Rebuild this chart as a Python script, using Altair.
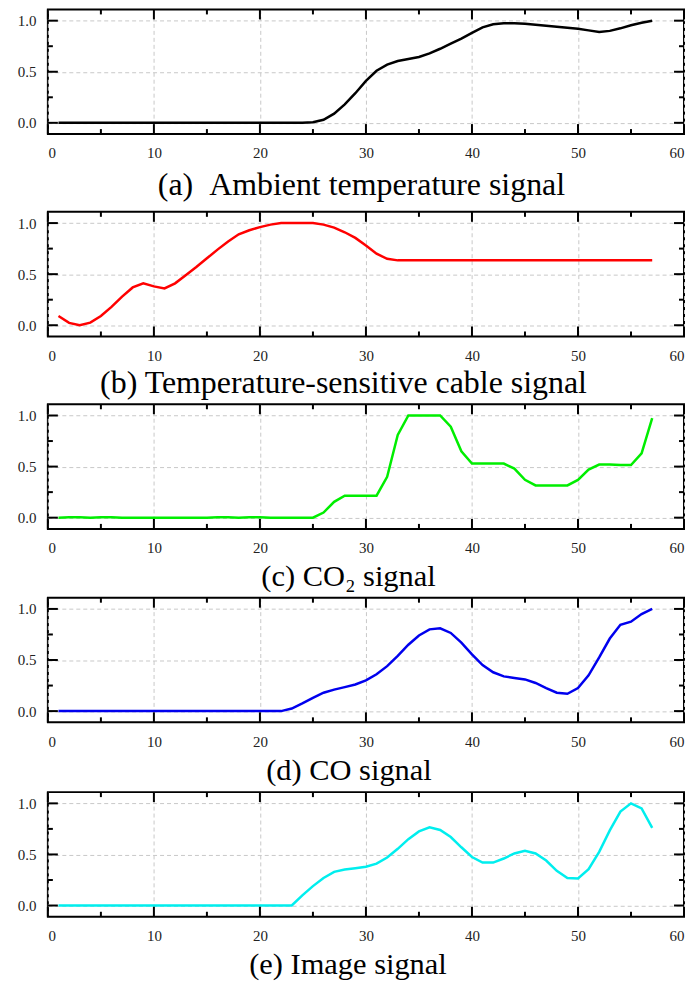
import altair as alt
import pandas as pd

# ---------------- data ----------------
x_vals = list(range(1, 58))

ambient = [0, 0, 0, 0, 0, 0, 0, 0, 0, 0, 0, 0, 0, 0, 0, 0, 0, 0, 0, 0, 0, 0, 0, 0,
           0.005, 0.03, 0.09, 0.18, 0.29, 0.41, 0.51, 0.57, 0.605, 0.625,
           0.645, 0.68, 0.725, 0.775, 0.825, 0.88, 0.935, 0.965, 0.975, 0.975,
           0.97, 0.96, 0.95, 0.94, 0.93, 0.92, 0.905, 0.89, 0.9, 0.925,
           0.955, 0.98, 1.0]

cable = [0.09, 0.023, 0.0, 0.025, 0.09, 0.18, 0.28, 0.37, 0.41, 0.38,
         0.36, 0.41, 0.49, 0.57, 0.655, 0.74, 0.82, 0.89, 0.93, 0.96,
         0.985, 1.0, 1.0, 1.0, 1.0, 0.985, 0.955, 0.91, 0.855, 0.78,
         0.7, 0.65, 0.635, 0.635, 0.635, 0.635, 0.635, 0.635, 0.635, 0.635,
         0.635, 0.635, 0.635, 0.635, 0.635, 0.635, 0.635, 0.635, 0.635, 0.635,
         0.635, 0.635, 0.635, 0.635, 0.635, 0.635, 0.635]

co2 = [0, 0.005, 0.005, 0, 0.005, 0.005, 0, 0, 0, 0,
       0, 0, 0, 0, 0, 0.005, 0.005, 0, 0.005, 0.005,
       0, 0, 0, 0, 0, 0.05, 0.155, 0.215, 0.215, 0.215,
       0.215, 0.4, 0.81, 1.0, 1.0, 1.0, 1.0, 0.89, 0.65, 0.53,
       0.53, 0.53, 0.53, 0.48, 0.37, 0.316, 0.316, 0.316, 0.316, 0.37,
       0.47, 0.52, 0.52, 0.515, 0.515, 0.63, 0.975]

co = [0, 0, 0, 0, 0, 0, 0, 0, 0, 0, 0, 0, 0, 0, 0, 0, 0, 0, 0, 0, 0, 0,
      0.025, 0.075, 0.13, 0.18, 0.21, 0.235, 0.26, 0.3, 0.36, 0.44,
      0.54, 0.65, 0.74, 0.8, 0.81, 0.765, 0.67, 0.555, 0.45, 0.38,
      0.34, 0.325, 0.31, 0.275, 0.225, 0.18, 0.17, 0.225, 0.35, 0.525,
      0.71, 0.845, 0.875, 0.95, 1.0]

image = [0, 0, 0, 0, 0, 0, 0, 0, 0, 0, 0, 0, 0, 0, 0, 0, 0, 0, 0, 0, 0, 0, 0,
         0.1, 0.19, 0.27, 0.33, 0.352, 0.365, 0.38, 0.41, 0.47, 0.555,
         0.65, 0.725, 0.765, 0.74, 0.67, 0.57, 0.475, 0.42, 0.42, 0.46,
         0.51, 0.535, 0.51, 0.44, 0.34, 0.27, 0.265, 0.355, 0.525, 0.735,
         0.92, 1.0, 0.95, 0.76]

captions = ["(a)\u00a0\u00a0Ambient temperature signal",
            "(b) Temperature-sensitive cable signal",
            "(c) CO\u2082 signal",
            "(d) CO signal",
            "(e) Image signal"]
colors = ["#000000", "#ff0000", "#00ee00", "#0000ee", "#00eeee"]
series = [ambient, cable, co2, co, image]

x_major = [0, 10, 20, 30, 40, 50, 60]
x_minor = [5, 15, 25, 35, 45, 55]
y_major = [0.0, 0.5, 1.0]
y_minor = [0.25, 0.75]

# ---------------- layout ----------------
W, H = 638, 125
MAJ, MIN = 10, 5
FONT = "Liberation Serif"
title_fs = [32, 32, 30.5, 30.5, 30.5]
title_dx = [-4.5, -22.5, -17.5, -17, -18]
title_off = [9, 5, 6, 7, 6]

xs = alt.Scale(domain=[0, 60], nice=False, zero=False)
ys = alt.Scale(domain=[-0.11, 1.11], nice=False, zero=False)

x_enc = alt.X("t:Q", scale=xs, title=None,
              axis=alt.Axis(values=x_major, grid=True, gridDash=[4, 3],
                            gridColor="#c8c8c8", gridWidth=1, ticks=False,
                            tickSize=0, domain=False, labelFont=FONT,
                            labelFontSize=15, labelPadding=12,
                            labelColor="#222222", format="d", title=None))
y_enc = alt.Y("v:Q", scale=ys, title=None,
              axis=alt.Axis(values=y_major, grid=True, gridDash=[4, 3],
                            gridColor="#c8c8c8", gridWidth=1, ticks=False,
                            tickSize=0, domain=False, labelFont=FONT,
                            labelFontSize=15, labelPadding=12,
                            labelColor="#222222", format=".1f", title=None))

xmaj_df = pd.DataFrame({"t": x_major})
xmin_df = pd.DataFrame({"t": x_minor})
ymaj_df = pd.DataFrame({"v": y_major})
ymin_df = pd.DataFrame({"v": y_minor})


def tick_layers():
    layers = []
    for df, ln in ((xmaj_df, MAJ), (xmin_df, MIN)):
        layers.append(alt.Chart(df).mark_rule(color="black", strokeWidth=2).encode(
            x=x_enc, y=alt.value(H), y2=alt.value(H - ln)))
        layers.append(alt.Chart(df).mark_rule(color="black", strokeWidth=2).encode(
            x=x_enc, y=alt.value(0), y2=alt.value(ln)))
    for df, ln in ((ymaj_df, MAJ), (ymin_df, MIN)):
        layers.append(alt.Chart(df).mark_rule(color="black", strokeWidth=2).encode(
            y=y_enc, x=alt.value(0), x2=alt.value(ln)))
        layers.append(alt.Chart(df).mark_rule(color="black", strokeWidth=2).encode(
            y=y_enc, x=alt.value(W), x2=alt.value(W - ln)))
    return layers


panels = []
for i in range(5):
    df = pd.DataFrame({"t": x_vals, "v": series[i]})
    line = alt.Chart(df).mark_line(color=colors[i], strokeWidth=2.5).encode(
        x=x_enc, y=y_enc)
    tkw = dict(orient="bottom", font=FONT, fontSize=title_fs[i],
               fontWeight="normal", color="black", offset=title_off[i],
               dx=title_dx[i], anchor="middle", frame="group")
    if i == 0:
        tkw.update(subtitle="\u00a0", subtitleFontSize=2, subtitlePadding=3)
    p = alt.layer(line, *tick_layers()).properties(
        width=W, height=H, title=alt.TitleParams(captions[i], **tkw))
    panels.append(p)

chart = alt.vconcat(*panels, spacing=2).properties(
    padding={"left": 8, "top": -2, "right": 0, "bottom": 0},
    background="white",
).configure_view(stroke="black", strokeWidth=2).configure_axis(
    labelFont=FONT, labelFontSize=15, labelColor="#222222"
).configure_text(font=FONT)

chart.save("out.html", embed_options={"renderer": "svg", "actions": False})
